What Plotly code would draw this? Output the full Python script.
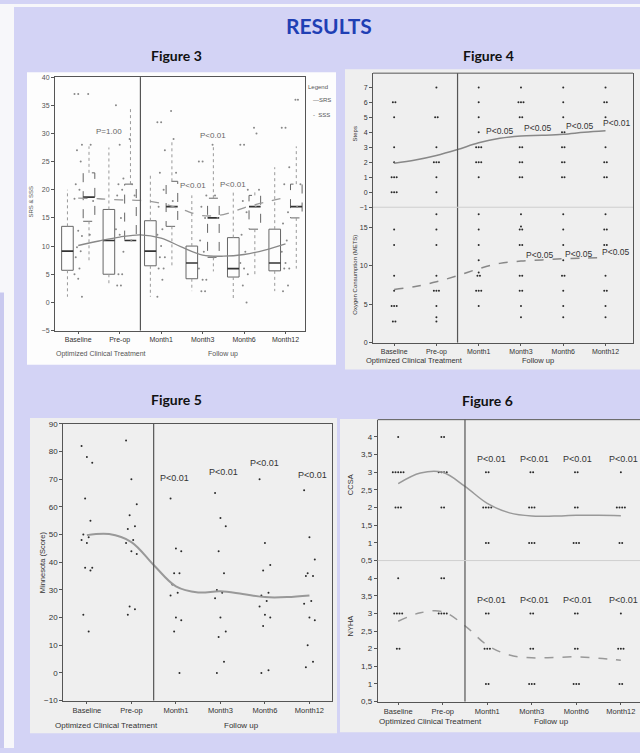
import plotly.graph_objects as go

W, H = 640, 753
def X(px): return px / W
def Y(py): return 1 - py / H

FONT = "Liberation Sans Narrow, Liberation Sans, Arial, sans-serif"
HFONT = "Lato, Open Sans, sans-serif"

CATS = ["Baseline", "Pre-op", "Month1", "Month3", "Month6", "Month12"]
CURVE_POS = [0, 0.5, 1, 1.5, 2, 2.5, 3, 3.5, 4, 4.5, 5]

# ---------------- Figure 3 : SRS & SSS boxplots ----------------
srs_q1 = [5.7, 5.0, 6.5, 4.2, 4.5, 5.6]
srs_med = [9.1, 11.0, 9.1, 7.0, 6.0, 7.0]
srs_q3 = [13.5, 16.5, 14.5, 10.0, 11.5, 13.0]
srs_lo = [1.0, 3.0, 1.0, 2.0, 0.3, 2.0]
srs_hi = [20.0, 27.5, 23.0, 19.0, 20.0, 24.0]
sss_q1 = [14.4, 11.0, 13.5, 8.0, 13.0, 15.0]
sss_med = [18.7, 11.0, 17.0, 15.0, 17.0, 17.0]
sss_q3 = [23.0, 21.0, 21.5, 18.5, 19.0, 21.0]
sss_lo = [7.2, 11.0, 6.2, 5.5, 4.5, 6.0]
sss_hi = [27.7, 34.5, 28.7, 28.0, 20.0, 27.7]
srs_pts = [
    [37, 37, 28, 27, 25, 21, 20, 18.4, 12.7, 11.8, 9.8, 9.1, 8, 6, 5, 4.2, 1],
    [35, 28, 22, 21, 20, 19, 15, 13, 12, 9, 5, 5, 3, 3],
    [32, 32, 27, 23, 20, 17, 13, 12, 10, 8, 8, 6, 6, 4, 1],
    [25, 25, 19, 17, 15, 11, 9, 6, 4, 4, 2, 2],
    [28, 28, 20, 18, 16, 12, 9, 7, 6, 5, 3, 0],
    [31, 31, 24, 21, 16, 14, 11, 9, 7, 6, 6, 3, 2],
]
sss_pts = [
    [37, 28, 18, 12],
    [29, 21, 19, 11],
    [34, 29, 23, 18],
    [28, 19, 15, 8],
    [31, 30, 20, 17],
    [36, 36, 21, 17],
]
srs_curve = [10.1, 10.9, 11.6, 12.0, 11.4, 9.8, 8.4, 8.2, 8.5, 9.3, 10.4]
sss_curve = [18.5, 18.4, 18.2, 18.1, 17.6, 16.5, 15.4, 15.6, 16.8, 17.8, 18.6]

# ---------------- Figure 4 : Steps / METS ----------------
steps = [
    [6, 6, 5, 3, 2, 1, 1, 1, 0, 0, 0],
    [7, 5, 5, 3, 2, 2, 2, 1, 0],
    [7, 6, 5, 4, 3, 3, 3, 2, 2, 2, 1],
    [7, 6, 6, 6, 5, 5, 3, 3, 2, 2, 1, 1],
    [7, 6, 5, 4, 4, 3, 3, 2, 2, 1, 1],
    [7, 6, 6, 5, 3, 2, 2, 1, 1],
]
mets = [
    [14.7, 12.7, 8.7, 6.75, 4.75, 4.75, 4.75, 2.75, 2.75],
    [16.7, 14.7, 12.7, 8.7, 6.75, 6.75, 6.75, 4.75, 3.3, 2.75],
    [16.7, 14.7, 12.7, 10.7, 9.1, 8.7, 8.7, 6.75, 6.75, 6.75, 4.75],
    [16.7, 15.1, 14.7, 14.7, 12.7, 12.7, 8.7, 8.7, 6.75, 6.75, 4.75, 3.3],
    [16.7, 14.7, 12.7, 10.7, 8.7, 8.7, 6.75, 4.75, 3.3],
    [16.7, 14.7, 14.7, 12.7, 12.7, 8.7, 6.75, 6.75, 4.75, 3.3],
]
steps_curve = [1.93, 2.15, 2.45, 2.85, 3.3, 3.6, 3.75, 3.8, 3.87, 4.0, 4.1]
mets_curve = [6.9, 7.3, 7.9, 8.7, 9.6, 10.3, 10.6, 10.75, 10.9, 11.0, 11.05]

# ---------------- Figure 5 : Minnesota ----------------
minnesota = [
    [82, 78, 76, 63, 55, 50, 49, 48, 47, 38, 38, 37, 21, 15],
    [84, 70, 61, 57, 53, 52, 48, 47, 44, 43, 24, 23, 21],
    [63, 45, 44, 36, 36, 32, 29, 28, 20, 19, 15, 0],
    [65, 56, 53, 44, 36, 30, 29, 27, 20, 15, 13, 4, 0],
    [70, 47, 39, 37, 29, 28, 26, 24, 21, 20, 17, 1, 0],
    [66, 49, 41, 36, 35, 35, 26, 25, 20, 19, 10, 4, 2],
]
minn_curve = [49.8, 50.2, 47.3, 39.0, 31.3, 29.1, 29.5, 28.5, 27.4, 27.4, 28.0]

# ---------------- Figure 6 : CCSA / NYHA ----------------
ccsa = [
    [4, 3, 3, 3, 3, 3, 2, 2, 2],
    [4, 4, 3, 3, 3, 3, 2, 2],
    [3, 3, 2, 2, 2, 2, 1, 1],
    [3, 3, 2, 2, 2, 1, 1, 1],
    [3, 3, 2, 2, 1, 1, 1],
    [3, 2, 2, 2, 2, 1, 1],
]
nyha = [
    [4, 3, 3, 3, 3, 2, 2],
    [4, 4, 3, 3, 3, 3],
    [3, 3, 2, 2, 2, 1, 1],
    [3, 3, 2, 2, 1, 1, 1],
    [3, 3, 2, 2, 1, 1, 1],
    [3, 2, 2, 2, 1, 1],
]
ccsa_curve = [2.68, 2.98, 3.0, 2.6, 2.12, 1.85, 1.76, 1.76, 1.78, 1.78, 1.77]
nyha_curve = [2.78, 3.02, 3.05, 2.65, 2.1, 1.82, 1.74, 1.75, 1.77, 1.73, 1.67]

p_fig3 = ["P=1.00", "P<0.01", "P<0.01", "P<0.01"]
p_fig3_pos = [(0.75, 30.3), (3.26, 29.6), (2.78, 20.8), (3.73, 21.0)]
p_fig4a = ["P<0.05", "P<0.05", "P<0.05", "P<0.01"]
p_fig4a_pos = [(2.5, 4.1), (3.4, 4.3), (4.39, 4.45), (5.27, 4.65)]
p_fig4b = ["P<0.05", "P<0.05", "P<0.05"]
p_fig4b_pos = [(3.44, 11.4), (4.37, 11.5), (5.24, 11.8)]
p_fig5 = ["P<0.01", "P<0.01", "P<0.01", "P<0.01"]
p_fig5_pos = [(1.97, 70.6), (3.07, 72.7), (4.0, 76.0), (5.06, 71.5)]
p_fig6 = ["P<0.01", "P<0.01", "P<0.01", "P<0.01"]
p_fig6_x = [2.09, 3.06, 4.03, 5.06]
p_fig6_y = 3.37


def spread(lists, step, base=0.0):
    xs, ys = [], []
    for ci, vals in enumerate(lists):
        counts = {}
        for v in vals:
            counts[v] = counts.get(v, 0) + 1
        seen = {}
        for v in vals:
            k = seen.get(v, 0)
            seen[v] = k + 1
            n = counts[v]
            xs.append(ci + base + (k - (n - 1) / 2) * step)
            ys.append(v)
    return xs, ys


def scatter_jit(lists, width, base=0.0):
    xs, ys = [], []
    for ci, vals in enumerate(lists):
        for i, v in enumerate(vals):
            off = (((i * 3) % 7) - 3) / 3 * width
            xs.append(ci + base + off)
            ys.append(v)
    return xs, ys


fig = go.Figure()
DOT = "#2a2a2a"

# ----- Fig 3 traces -----
def box_traces(q1, med, q3, lo, hi, off, dash, xa, ya):
    hw = 0.14
    for ci in range(len(q1)):
        c = ci + off
        fig.add_trace(go.Scatter(
            x=[c - hw, c + hw, c + hw, c - hw, c - hw],
            y=[q1[ci], q1[ci], q3[ci], q3[ci], q1[ci]],
            mode="lines", line=dict(color="#666", width=1, dash=dash),
            xaxis=xa, yaxis=ya, hoverinfo="skip", showlegend=False))
        fig.add_trace(go.Scatter(
            x=[c - hw, c + hw], y=[med[ci], med[ci]],
            mode="lines", line=dict(color="#333", width=1.6),
            xaxis=xa, yaxis=ya, hoverinfo="skip", showlegend=False))
        fig.add_trace(go.Scatter(
            x=[c, c, None, c, c], y=[q3[ci], hi[ci], None, q1[ci], lo[ci]],
            mode="lines", line=dict(color="#999", width=1, dash="dot"),
            xaxis=xa, yaxis=ya, hoverinfo="skip", showlegend=False))

box_traces(srs_q1, srs_med, srs_q3, srs_lo, srs_hi, -0.26, "solid", "x", "y")
box_traces(sss_q1, sss_med, sss_q3, sss_lo, sss_hi, 0.26, "dash", "x", "y")
sx, sy = scatter_jit(srs_pts, 0.09, 0.0)
fig.add_trace(go.Scatter(x=sx, y=sy, mode="markers", marker=dict(size=2, color="#888"),
                         xaxis="x", yaxis="y", showlegend=False))
sx, sy = scatter_jit(sss_pts, 0.06, 0.3)
fig.add_trace(go.Scatter(x=sx, y=sy, mode="markers", marker=dict(size=2, color="#888"),
                         xaxis="x", yaxis="y", showlegend=False))
fig.add_trace(go.Scatter(x=CURVE_POS, y=srs_curve, mode="lines", line=dict(color="#888", width=1.3, shape="spline"),
                         xaxis="x", yaxis="y", showlegend=False))
fig.add_trace(go.Scatter(x=CURVE_POS, y=sss_curve, mode="lines", line=dict(color="#999", width=1.3, dash="dash", shape="spline"),
                         xaxis="x", yaxis="y", showlegend=False))

# ----- Fig 4 traces -----
sx, sy = spread(steps, 0.06)
fig.add_trace(go.Scatter(x=sx, y=sy, mode="markers", marker=dict(size=2, color=DOT),
                         xaxis="x2", yaxis="y2", showlegend=False))
fig.add_trace(go.Scatter(x=CURVE_POS, y=steps_curve, mode="lines", line=dict(color="#888", width=1.5, shape="spline"),
                         xaxis="x2", yaxis="y2", showlegend=False))
sx, sy = spread(mets, 0.06)
fig.add_trace(go.Scatter(x=sx, y=sy, mode="markers", marker=dict(size=2, color=DOT),
                         xaxis="x3", yaxis="y3", showlegend=False))
fig.add_trace(go.Scatter(x=CURVE_POS, y=mets_curve, mode="lines", line=dict(color="#888", width=1.5, dash="dash", shape="spline"),
                         xaxis="x3", yaxis="y3", showlegend=False))

# ----- Fig 5 traces -----
sx, sy = scatter_jit(minnesota, 0.12)
fig.add_trace(go.Scatter(x=sx, y=sy, mode="markers", marker=dict(size=2, color=DOT),
                         xaxis="x4", yaxis="y4", showlegend=False))
fig.add_trace(go.Scatter(x=CURVE_POS, y=minn_curve, mode="lines", line=dict(color="#999", width=2, shape="spline"),
                         xaxis="x4", yaxis="y4", showlegend=False))

# ----- Fig 6 traces -----
sx, sy = spread(ccsa, 0.06)
fig.add_trace(go.Scatter(x=sx, y=sy, mode="markers", marker=dict(size=2, color=DOT),
                         xaxis="x5", yaxis="y5", showlegend=False))
fig.add_trace(go.Scatter(x=CURVE_POS, y=ccsa_curve, mode="lines", line=dict(color="#999", width=1.5, shape="spline"),
                         xaxis="x5", yaxis="y5", showlegend=False))
sx, sy = spread(nyha, 0.06)
fig.add_trace(go.Scatter(x=sx, y=sy, mode="markers", marker=dict(size=2, color=DOT),
                         xaxis="x6", yaxis="y6", showlegend=False))
fig.add_trace(go.Scatter(x=CURVE_POS, y=nyha_curve, mode="lines", line=dict(color="#999", width=1.5, dash="dash", shape="spline"),
                         xaxis="x6", yaxis="y6", showlegend=False))


def axis(domain, rng, fs=7, **kw):
    d = dict(domain=domain, range=rng, showgrid=False, zeroline=False, showline=True,
             linecolor="#555", linewidth=1, ticks="outside", ticklen=3, tickcolor="#555",
             tickfont=dict(size=fs, color="#333", family=FONT), fixedrange=True)
    d.update(kw)
    return d

catx = dict(tickmode="array", tickvals=list(range(6)), ticktext=CATS, ticklen=2)
comma = [str(v).replace(".", ",") if v != int(v) else str(int(v)) for v in [0.5, 1, 1.5, 2, 2.5, 3, 3.5, 4]]

layout = dict(
    width=W, height=H, margin=dict(l=0, r=0, t=0, b=0),
    paper_bgcolor="#d3d3f5", plot_bgcolor="rgba(0,0,0,0)",
    showlegend=False,
    xaxis=axis([X(55), X(305)], [-0.56, 5.47], mirror=True, anchor="y", **catx),
    yaxis=axis([Y(330.5), Y(74)], [-5, 40], mirror=True, anchor="x", tickvals=list(range(-5, 41, 5)),
               tickfont=dict(size=7, color="#555", family=FONT)),
    xaxis2=axis([X(373), X(633)], [-0.5, 5.65], showline=False, showticklabels=False, ticks="", anchor="y2"),
    yaxis2=axis([Y(205.7), Y(70)], [-1, 7.95], anchor="x2", mirror=True, tickvals=list(range(-1, 8))),
    xaxis3=axis([X(373), X(633)], [-0.5, 5.65], anchor="y3", **catx),
    yaxis3=axis([Y(342.7), Y(205.7)], [0, 17.6], anchor="x3", mirror=True, tickvals=[0, 5, 10, 15]),
    xaxis4=axis([X(63.3), X(331.7)], [-0.53, 5.5], fs=7.5, mirror=True, anchor="y4", **catx),
    yaxis4=axis([Y(705), Y(425)], [-10, 90], fs=8, mirror=True, anchor="x4", tickvals=list(range(-10, 91, 10))),
    xaxis5=axis([X(377.7), 1.0], [-0.46, 5.43], showline=False, showticklabels=False, ticks="", anchor="y5"),
    yaxis5=axis([Y(563.3), Y(420.7)], [0.5, 4.49], fs=8, anchor="x5",
                tickvals=[0.5, 1, 1.5, 2, 2.5, 3, 3.5, 4], ticktext=comma),
    xaxis6=axis([X(377.7), 1.0], [-0.46, 5.43], fs=7.5, anchor="y6", **catx),
    yaxis6=axis([Y(706), Y(563.3)], [0.5, 4.5], fs=8, anchor="x6",
                tickvals=[0.5, 1, 1.5, 2, 2.5, 3, 3.5, 4], ticktext=comma),
)

shapes = []
def rect(x0, y0, x1, y1, color):
    shapes.append(dict(type="rect", xref="paper", yref="paper", x0=X(x0), x1=X(x1), y0=Y(y1), y1=Y(y0),
                       fillcolor=color, line=dict(width=0), layer="below"))

rect(0, 0, 640, 3, "#f6f6fa")
rect(0, 0, 14, 753, "#f7f7fa")
rect(0, 292, 4, 753, "#c9c9ef")
rect(27, 69, 336, 365, "#fdfdfd")
rect(345, 66, 640, 370, "#efefef")
rect(30, 419, 337, 738, "#efefef")
rect(340, 420, 640, 737, "#efefef")

def divider(xa, ya):
    shapes.append(dict(type="line", xref=xa, yref=ya + " domain", x0=1.5, x1=1.5, y0=0, y1=1,
                       line=dict(color="#555", width=1.2)))

for i in ["", "2", "3", "4", "5", "6"]:
    divider("x" + i, "y" + i)

def hline(xa, ya, yv, color, width=1):
    shapes.append(dict(type="line", xref=xa + " domain", yref=ya + " domain", x0=0, x1=1, y0=yv, y1=yv,
                       line=dict(color=color, width=width)))

hline("x2", "y2", 1, "#555")
hline("x2", "y2", 0, "#cfcfcf")
hline("x5", "y5", 1, "#555")
hline("x5", "y5", 0, "#cfcfcf")

layout["shapes"] = shapes

ann = []
def txt(x, y, s, size, color="#333", xref="paper", yref="paper", family=FONT, angle=0, xanchor="center"):
    ann.append(dict(x=x, y=y, xref=xref, yref=yref, text=s, showarrow=False, textangle=angle,
                    font=dict(size=size, color=color, family=family), xanchor=xanchor, yanchor="middle"))

txt(X(329), Y(22), "<b>RESULTS</b>", 21, "#1f3fb4", family=HFONT)
txt(X(176), Y(52), "<b>Figure 3</b>", 14, "#111", family=HFONT)
txt(X(488), Y(52), "<b>Figure 4</b>", 14, "#111", family=HFONT)
txt(X(176), Y(400), "<b>Figure 5</b>", 14, "#111", family=HFONT)
txt(X(487), Y(401), "<b>Figure 6</b>", 14, "#111", family=HFONT)

# axis titles
txt(X(31), Y(200), "SRS & SSS", 6, "#555", angle=-90)
txt(X(355), Y(132), "Steps", 6, "#333", angle=-90)
txt(X(355), Y(274), "Oxygen Consumption (METS)", 6, "#333", angle=-90)
txt(X(42), Y(565), "Minnesota (Score)", 7.5, "#333", angle=-90)
txt(X(350), Y(487), "CCSA", 7.5, "#333", angle=-90)
txt(X(350), Y(630), "NYHA", 7.5, "#333", angle=-90)

# group labels under x axes
txt(0.56, Y(354), "Optimized Clinical Treatment", 7, "#555", xref="x")
txt(3.49, Y(354), "Follow up", 7, "#555", xref="x")
txt(0.49, Y(361), "Optimized Clinical Treatment", 7.5, "#333", xref="x3")
txt(3.4, Y(361), "Follow up", 7.5, "#333", xref="x3")
txt(0.43, Y(730), "Optimized Clinical Treatment", 8, "#333", xref="x4")
txt(3.48, Y(730), "Follow up", 8, "#333", xref="x4")
txt(0.72, Y(726.5), "Optimized Clinical Treatment", 8, "#333", xref="x6")
txt(3.44, Y(726.5), "Follow up", 8, "#333", xref="x6")

# legend of figure 3
txt(X(318), Y(84), "Legend", 6, "#555")
txt(X(311), Y(97), "\u2014SRS", 6, "#555", xanchor="left")
txt(X(311), Y(112), "-  SSS", 6, "#555", xanchor="left")

# p-values
for s, (px, py) in zip(p_fig3, p_fig3_pos):
    txt(px, py, s, 8, "#666", xref="x", yref="y")
for s, (px, py) in zip(p_fig4a, p_fig4a_pos):
    txt(px, py, s, 8.5, "#333", xref="x2", yref="y2")
for s, (px, py) in zip(p_fig4b, p_fig4b_pos):
    txt(px, py, s, 8.5, "#333", xref="x3", yref="y3")
for s, (px, py) in zip(p_fig5, p_fig5_pos):
    txt(px, py, s, 9, "#333", xref="x4", yref="y4")
for s, px in zip(p_fig6, p_fig6_x):
    txt(px, p_fig6_y, s, 9, "#333", xref="x5", yref="y5")
    txt(px, p_fig6_y, s, 9, "#333", xref="x6", yref="y6")

layout["annotations"] = ann
fig.update_layout(**layout)
fig.write_html("out.html", config={"displayModeBar": False},
               post_script="document.body.style.margin='0px';document.body.style.padding='0px';")
